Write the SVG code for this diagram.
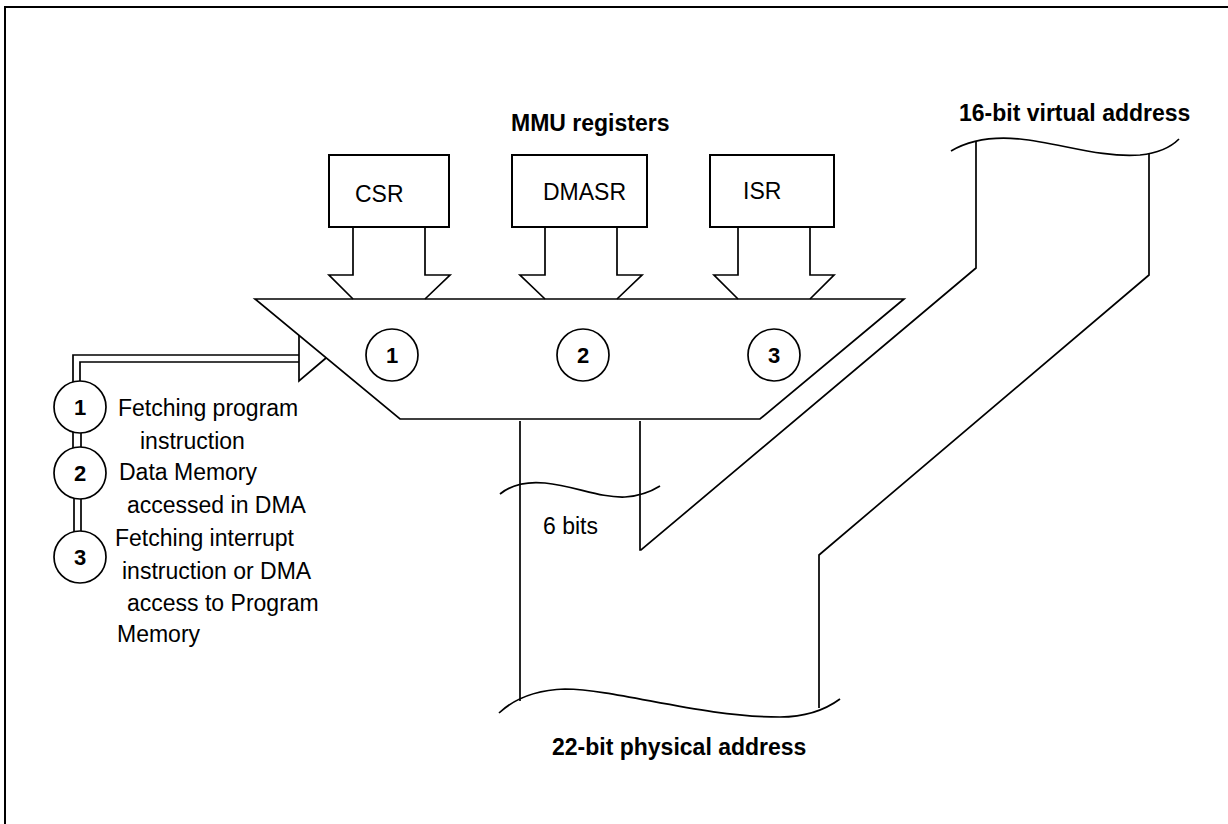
<svg xmlns="http://www.w3.org/2000/svg" width="1228" height="824" viewBox="0 0 1228 824">
<style>
  .ln{fill:none;stroke:#000;stroke-width:1.7;stroke-linejoin:miter}
  .box{fill:#fff;stroke:#000;stroke-width:2}
  .c{fill:#fff;stroke:#000;stroke-width:1.7}
  .t{font-family:"Liberation Sans",Arial,sans-serif;font-size:23px;fill:#000}
  .b{font-family:"Liberation Sans",Arial,sans-serif;font-size:23px;font-weight:bold;fill:#000}
  .n{font-family:"Liberation Sans",Arial,sans-serif;font-size:22px;font-weight:bold;fill:#000;text-anchor:middle}
</style>
<rect x="0" y="0" width="1228" height="824" fill="#fff"/>
<rect x="5" y="7" width="1240" height="840" fill="none" stroke="#000" stroke-width="2"/>

<text class="b" x="511" y="131">MMU registers</text>
<text class="b" x="959" y="121">16-bit virtual address</text>
<text class="b" x="552" y="755">22-bit physical address</text>

<g id="connectors">
  <polyline class="ln" points="353,227 353,275 329,275 353,299"/>
  <polyline class="ln" points="425,227 425,275 450,275 425,299"/>
  <polyline class="ln" points="545,227 545,275 520,275 545,299"/>
  <polyline class="ln" points="617,227 617,275 642,275 617,299"/>
  <polyline class="ln" points="738,227 738,275 714,275 738,299"/>
  <polyline class="ln" points="810,227 810,275 834,275 810,299"/>
  <polyline class="ln" points="73,382 73,355 299,355"/>
  <polyline class="ln" points="80,381 80,362 299,362"/>
  <polyline class="ln" points="299,335 299,381 326,358"/>
  <line class="ln" x1="73" y1="432" x2="73" y2="448"/>
  <line class="ln" x1="81" y1="433" x2="81" y2="447"/>
  <line class="ln" x1="74" y1="498" x2="74" y2="532"/>
  <line class="ln" x1="81" y1="499" x2="81" y2="531"/>
  <polyline class="ln" points="976,141 976,268 641,550 640,550 640,421"/>
  <polyline class="ln" points="1149,154 1149,275 819,555 819,708"/>
  <line class="ln" x1="520" y1="421" x2="520" y2="701"/>
  <path class="ln" d="M951,151 C968,141 990,136 1020,139 C1060,143 1100,158 1140,155 C1160,153 1172,146 1179,139"/>
  <path class="ln" d="M500,494 C510,486 525,481 545,483 C575,486 600,498 625,497 C640,496 652,491 660,486"/>
  <path class="ln" d="M499,713 C515,698 535,690 565,689 C620,690 700,717 780,717 C805,717 825,710 840,699"/>
</g>

<g id="csr">
  <rect class="box" x="329" y="155" width="120" height="72"/>
  <text class="t" x="355" y="202">CSR</text>
</g>
<g id="dmasr">
  <rect class="box" x="512" y="155" width="135" height="72"/>
  <text class="t" x="543" y="200">DMASR</text>
</g>
<g id="isr">
  <rect class="box" x="710" y="155" width="124" height="72"/>
  <text class="t" x="743" y="199">ISR</text>
</g>

<g id="mmu">
  <polygon class="ln" points="255,299 904,299 760,419 400,419"/>
  <circle class="c" cx="392" cy="355" r="26"/>
  <text class="n" x="392" y="363">1</text>
  <circle class="c" cx="583" cy="355" r="26"/>
  <text class="n" x="583" y="363">2</text>
  <circle class="c" cx="774" cy="355" r="26"/>
  <text class="n" x="774" y="363">3</text>
</g>

<g id="legend1">
  <circle class="c" cx="80" cy="407" r="26"/>
  <text class="n" x="80" y="415">1</text>
  <text class="t" x="118" y="416">Fetching program</text>
  <text class="t" x="140" y="449">instruction</text>
</g>
<g id="legend2">
  <circle class="c" cx="80" cy="473" r="26"/>
  <text class="n" x="80" y="481">2</text>
  <text class="t" x="119" y="480">Data Memory</text>
  <text class="t" x="127" y="513">accessed in DMA</text>
</g>
<g id="legend3">
  <circle class="c" cx="80" cy="557" r="26"/>
  <text class="n" x="80" y="565">3</text>
  <text class="t" x="115" y="546">Fetching interrupt</text>
  <text class="t" x="122" y="579">instruction or DMA</text>
  <text class="t" x="127" y="611">access to Program</text>
  <text class="t" x="117" y="642">Memory</text>
</g>

<text class="t" x="543" y="534">6 bits</text>
</svg>
